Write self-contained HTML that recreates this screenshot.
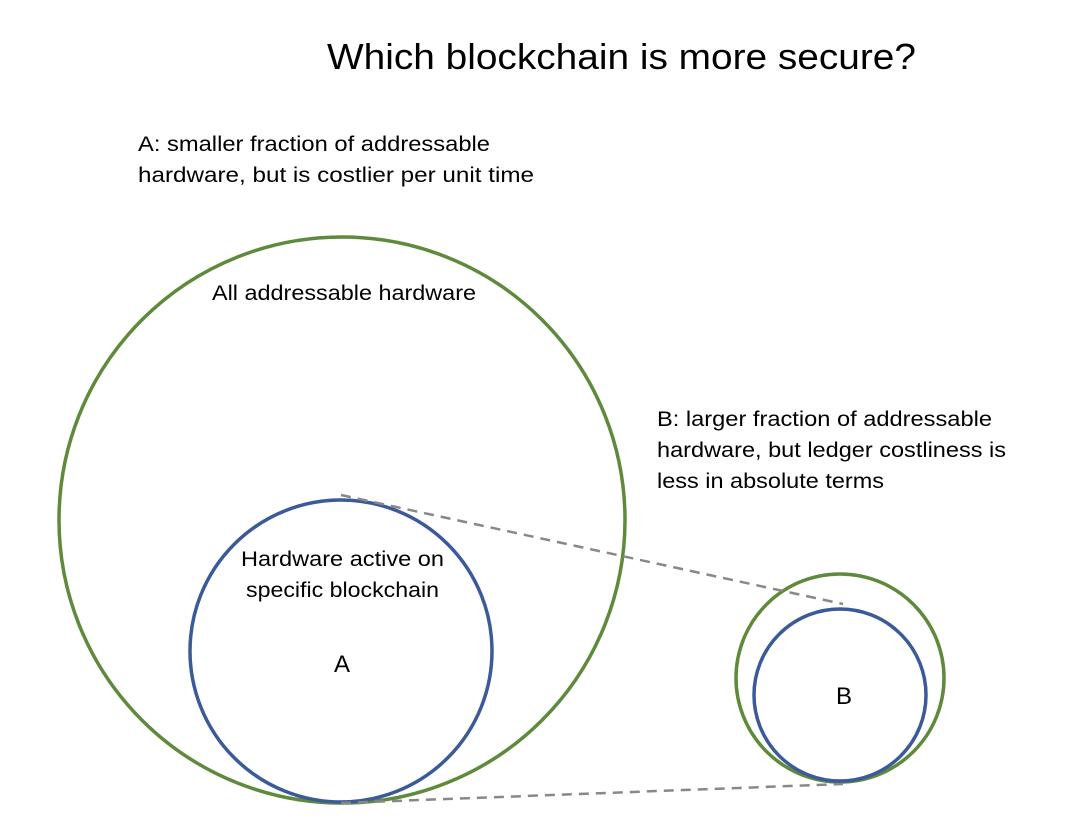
<!DOCTYPE html>
<html><head><style>
body{margin:0;background:#fff;}
svg{display:block;}
text{font-family:"Liberation Sans",sans-serif;fill:#000;}
</style></head><body>
<svg width="1080" height="824" viewBox="0 0 1080 824">
<text x="327" y="69" font-size="36" textLength="589" lengthAdjust="spacingAndGlyphs">Which blockchain is more secure?</text>
<text x="138" y="151" font-size="21" textLength="352" lengthAdjust="spacingAndGlyphs">A: smaller fraction of addressable</text>
<text x="138" y="182" font-size="21" textLength="396" lengthAdjust="spacingAndGlyphs">hardware, but is costlier per unit time</text>
<text x="657" y="426" font-size="21" textLength="335" lengthAdjust="spacingAndGlyphs">B: larger fraction of addressable</text>
<text x="657" y="457" font-size="21" textLength="349" lengthAdjust="spacingAndGlyphs">hardware, but ledger costliness is</text>
<text x="657" y="488" font-size="21" textLength="227" lengthAdjust="spacingAndGlyphs">less in absolute terms</text>
<circle cx="342" cy="520" r="283" fill="none" stroke="#5f8a3c" stroke-width="3.5"/>
<circle cx="341" cy="651" r="151" fill="none" stroke="#3b5a99" stroke-width="3.5"/>
<circle cx="840" cy="678" r="104" fill="none" stroke="#5f8a3c" stroke-width="3.5"/>
<circle cx="840" cy="695" r="86" fill="none" stroke="#3b5a99" stroke-width="3.5"/>
<line x1="341" y1="495" x2="843" y2="604" stroke="#888" stroke-width="2.5" stroke-dasharray="10,7"/>
<line x1="341" y1="803" x2="843" y2="784" stroke="#888" stroke-width="2.5" stroke-dasharray="10,7"/>
<text x="212" y="300" font-size="21" textLength="264" lengthAdjust="spacingAndGlyphs">All addressable hardware</text>
<text x="241" y="566" font-size="21" textLength="203" lengthAdjust="spacingAndGlyphs">Hardware active on</text>
<text x="246" y="597" font-size="21" textLength="193" lengthAdjust="spacingAndGlyphs">specific blockchain</text>
<text x="342" y="672" font-size="24" text-anchor="middle">A</text>
<text x="844" y="704" font-size="24" text-anchor="middle">B</text>
</svg>
</body></html>
